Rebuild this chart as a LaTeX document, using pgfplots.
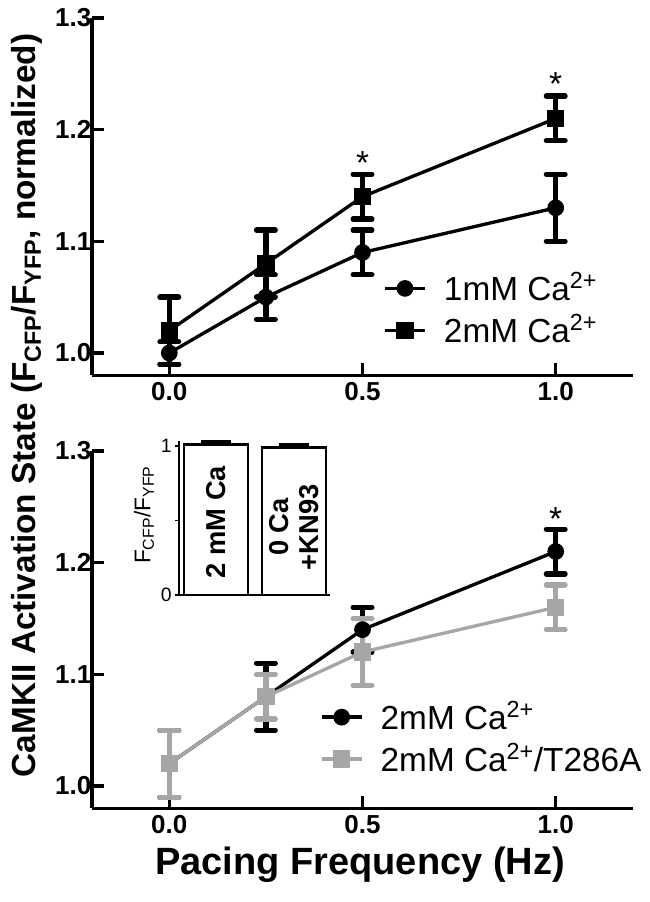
\documentclass[border=0pt]{standalone}
\usepackage{fontspec}
\setmainfont{Liberation Sans}
\usepackage{pgfplots}
\pgfplotsset{compat=1.18}
\definecolor{tgray}{RGB}{166,166,166}
\pgfplotsset{
  ebar/.style={error bars/.cd, y dir=both, y explicit,
    error bar style={line width=4pt, color=#1},
    error mark options={rotate=90, line width=4pt, mark size=7pt, line cap=round, color=#1}},
  main/.style={scale only axis, width=405.75pt, height=268pt,
    xmin=-0.2, xmax=1.2, ymin=0.98, ymax=1.3,
    axis x line*=bottom, axis y line*=left,
    axis line style={line width=2.5pt,-},
    xtick={0,0.5,1}, ytick={1,1.1,1.2,1.3},
    tick align=inside, major tick length=9pt,
    tick style={line width=2.5pt, black},
    minor tick num=0,
    /pgf/number format/assume math mode=true,
    ticklabel style={font=\bfseries\fontsize{19.5}{22}\selectfont},
    xticklabel style={/pgf/number format/fixed, /pgf/number format/fixed zerofill, /pgf/number format/precision=1, yshift=-2pt},
    yticklabel style={/pgf/number format/fixed, /pgf/number format/fixed zerofill, /pgf/number format/precision=1, xshift=3pt},
    clip=false,
    legend cell align=left,
    legend style={draw=none, fill=none, anchor=north west, inner sep=0pt, row sep=9.5pt,
      font=\fontsize{25}{28}\selectfont,
      nodes={inner sep=0pt, text height=20pt, text depth=2pt},
      /tikz/every odd column/.append style={column sep=13pt}},
    legend image code/.code={\draw[mark repeat=2, mark phase=2, ##1] plot coordinates {(0pt,0pt) (15pt,0pt) (30pt,0pt)};},
  }
}
\begin{document}
\begin{tikzpicture}
\useasboundingbox (0,0) rectangle (486.75pt,-676.5pt);
% top panel
\begin{axis}[main, at={(69pt,-13.5pt)}, anchor=north west, legend style={at={(0.538,0.285)}}]
\addplot[black, line width=2.5pt, mark=*, mark size=5pt, mark options={solid, draw=none, fill=black}, ebar=black]
  coordinates {(0,1.00) +- (0,0.01) (0.25,1.05) +- (0,0.02) (0.5,1.09) +- (0,0.02) (1.0,1.13) +- (0,0.03)};
\addlegendentry{1mM Ca\textsuperscript{2+}}
\addplot[black, line width=2.5pt, mark=square*, mark size=5.25pt, mark options={solid, draw=none, fill=black}, ebar=black]
  coordinates {(0,1.02) +- (0,0.03) (0.25,1.08) +- (0,0.03) (0.5,1.14) +- (0,0.02) (1.0,1.21) +- (0,0.02)};
\addlegendentry{2mM Ca\textsuperscript{2+}}
\node[anchor=base, yshift=-13pt, font=\fontsize{25}{28}\selectfont] at (axis cs:0.5,1.175) {*};
\node[anchor=base, yshift=-13pt, font=\fontsize{25}{28}\selectfont] at (axis cs:1.0,1.246) {*};
\end{axis}
% bottom panel
\begin{axis}[main, at={(69pt,-338.25pt)}, anchor=north west, legend style={at={(0.421,0.297)}}]
\addplot[black, line width=2.5pt, mark=*, mark size=5pt, mark options={solid, draw=none, fill=black}, ebar=black]
  coordinates {(0,1.02) +- (0,0.03) (0.25,1.08) +- (0,0.03) (0.5,1.14) +- (0,0.02) (1.0,1.21) +- (0,0.02)};
\addlegendentry{2mM Ca\textsuperscript{2+}}
\addplot[tgray, line width=2.5pt, mark=square*, mark size=5.25pt, mark options={solid, draw=none, fill=tgray}, ebar=tgray]
  coordinates {(0,1.02) +- (0,0.03) (0.25,1.08) +- (0,0.02) (0.5,1.12) +- (0,0.03) (1.0,1.16) +- (0,0.02)};
\addlegendentry{2mM Ca\textsuperscript{2+}/T286A}
\node[anchor=base, yshift=-13pt, font=\fontsize{25}{28}\selectfont] at (axis cs:1.0,1.2445) {*};
\end{axis}
% inset
\begin{axis}[at={(134.25pt,-330.75pt)}, anchor=north west, scale only axis,
  width=113.25pt, height=115.5pt, xmin=0.526, xmax=2.46, ymin=0, ymax=1.034,
  axis x line*=bottom, axis y line*=left, axis line style={line width=1.2pt,-},
  xtick=\empty, ytick={0,0.5,1}, yticklabels={0,,1},
  tick align=outside, major tick length=3pt, tick style={line width=1pt, black},
  yticklabel style={font=\fontsize{14.5}{16}\selectfont, xshift=1pt}, clip=false]
\addplot[ybar, bar width=48pt, draw=black, fill=white, line width=2pt,
  error bars/.cd, y dir=plus, y explicit, error bar style={line width=2pt, black},
  error mark options={rotate=90, line width=3pt, mark size=11pt, black}]
  coordinates {(1,1.01) +- (0,0.02) (2,0.99) +- (0,0.02)};
\node[rotate=90, font=\bfseries\fontsize{20.5}{23}\selectfont] at (axis cs:1,0.49) {2 mM Ca};
\node[rotate=90, align=center, font=\bfseries\fontsize{20.5}{22}\selectfont] at (axis cs:2,0.456) {0 Ca\\+KN93};
\end{axis}
\node[rotate=90, font=\fontsize{17}{19}\selectfont] at (108pt,-386.25pt) {F\textsubscript{CFP}/F\textsubscript{YFP}};
\node[rotate=90, anchor=base, font=\bfseries\fontsize{25}{29}\selectfont] at (27pt,-304.1pt) {CaMKII Activation State (F\textsubscript{CFP}/F\textsubscript{YFP}, normalized)};
\node[font=\bfseries\fontsize{28.5}{32}\selectfont] at (270pt,-648.75pt) {Pacing Frequency (Hz)};
\end{tikzpicture}
\end{document}
